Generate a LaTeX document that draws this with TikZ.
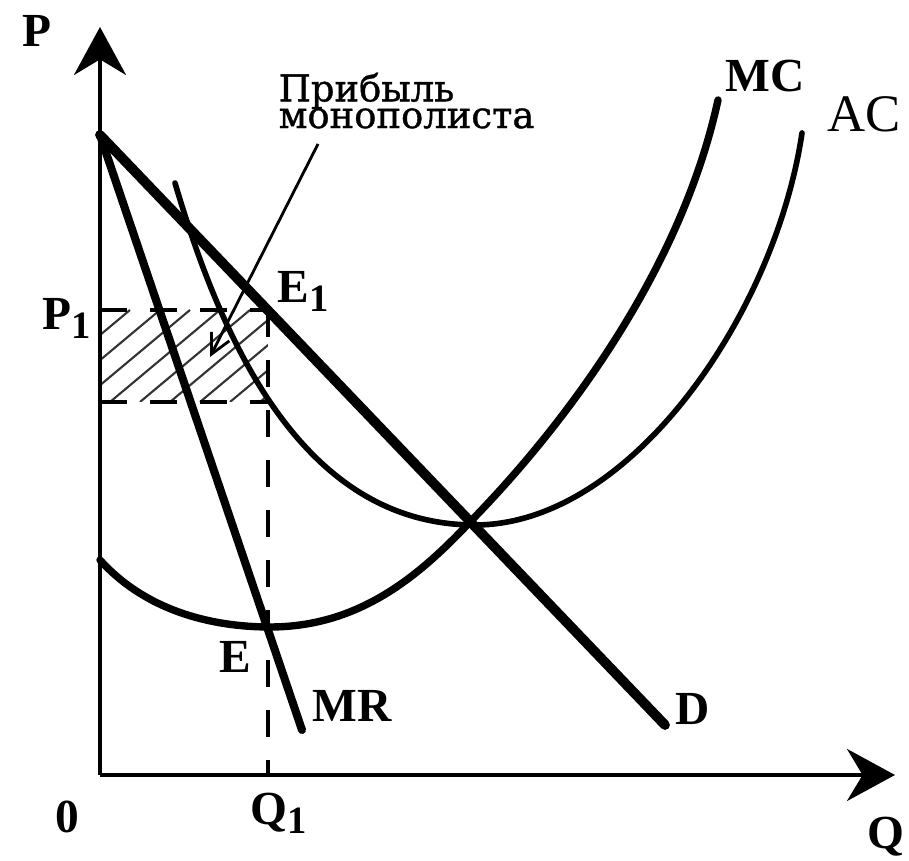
\documentclass[tikz,border=0pt]{standalone}
\usepackage{fontspec}
\setmainfont{Liberation Serif}
\newfontfamily\rufont[FakeBold=1]{DejaVu Serif}
\usetikzlibrary{arrows.meta}
\newcommand{\lsub}[1]{\raisebox{-0.09cm}{\fontsize{11}{11}\selectfont #1}}
\lineskiplimit=-20pt

\begin{document}
\begin{tikzpicture}[font=\fontsize{13.5}{14}\selectfont\bfseries,
  every node/.style={inner sep=0pt, anchor=base west},
  axis/.style={line width=1.1pt, -{Stealth[length=0.48cm,width=0.52cm]}},
  curve/.style={line width=2.3pt, line cap=round},
  guide/.style={line width=1pt, dash pattern=on 0.27cm off 0.23cm}]
  \useasboundingbox (-1.00,-0.86) rectangle (8.09,7.75);
  \coordinate (O) at (0,0);
  \coordinate (A) at (0,6.40);
  \coordinate (E1) at (1.68,4.65);
  \coordinate (P1) at (0,4.65);
  \coordinate (AC1) at (1.68,3.73);
  \coordinate (C1) at (0,3.73);
  \coordinate (Q1) at (1.68,0);
  \coordinate (Dend) at (5.65,0.50);
  \coordinate (MRend) at (2.02,0.45);
  \coordinate (profitfoot) at (2.18,6.31);
  \coordinate (profittip) at (1.10,4.18);
  % hatched profit area
  \begin{scope}
    \clip (C1) rectangle (E1);
    \foreach \x in {-1.4,-1.1,...,1.8}
      \draw[line width=0.6pt, black!80] (\x,3.73) -- ++(1.1,0.92);
  \end{scope}
  \draw[guide] (P1) -- (E1);
  \draw[guide] (C1) -- (AC1);
  \draw[guide] (E1) -- (Q1);
  \draw[axis] (O) -- (0,7.48);
  \draw[axis] (O) -- (7.95,0);
  \draw[curve, line width=2.8pt] (A) -- (Dend);
  \draw[curve] (A) -- (MRend);
  % MC
  \draw[curve, line width=2.1pt] (0,2.15) .. controls (0.45,1.65) and (1.1,1.48) .. (1.70,1.48)
    .. controls (2.6,1.48) and (3.2,2.0) .. (3.70,2.53)
    .. controls (4.6,3.45) and (5.8,5.0) .. (6.18,6.75);
  % AC
  \draw[curve, line width=1.6pt] (0.75,5.92) .. controls (1.2,4.4) and (2.0,2.5) .. (3.75,2.50)
    .. controls (5.3,2.5) and (6.75,4.6) .. (7.02,6.42);
  \draw[line width=0.8pt, -{Straight Barb[length=0.2cm,width=0.2cm]}] (profitfoot) -- (profittip);
  \node (profit) at (1.78,7.03) [anchor=north west, align=left,
    font=\rufont\fontsize{10.5}{7.6}\selectfont] {Прибыль\\монополиста};
  \node (plabel) at (-0.78,7.28) {P};
  \node (zero) at (-0.45,-0.58) {0};
  \node (qlabel) at (7.67,-0.74) {Q};
  \node (q1label) at (1.50,-0.50) {Q\lsub{1}};
  \node (p1label) at (-0.58,4.45) {P\lsub{1}};
  \node (e1label) at (1.77,4.72) {E\lsub{1}};
  \node (elabel) at (1.19,1.02) {E};
  \node (mrlabel) at (2.12,0.53) {MR};
  \node (dlabel) at (5.75,0.50) {D};
  \node (mclabel) at (6.25,6.83) {MC};
  \node (aclabel) at (7.27,6.43) [font=\fontsize{15}{16}\selectfont] {AC};
\end{tikzpicture}
\end{document}
